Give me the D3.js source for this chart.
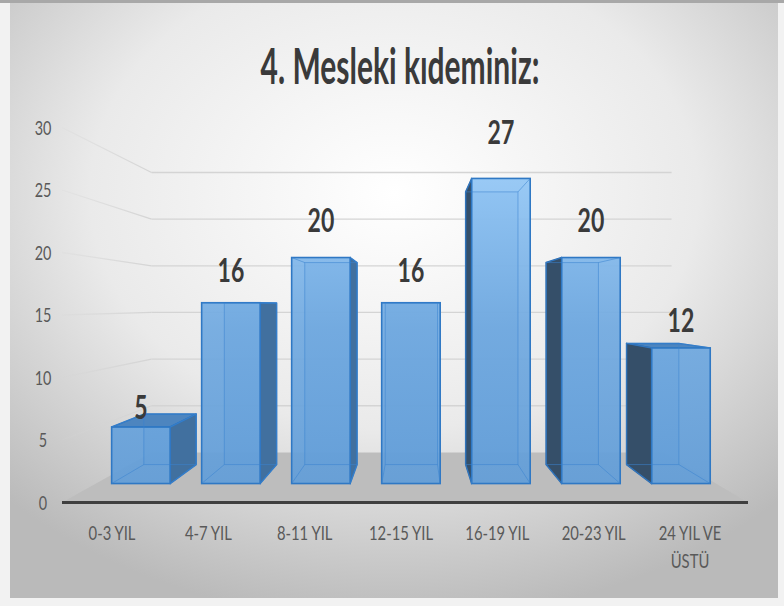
<!DOCTYPE html>
<html><head><meta charset="utf-8">
<script src="https://cdn.jsdelivr.net/npm/d3@7"></script>
<style>html,body{margin:0;padding:0;background:#f4f4f4;}svg{display:block;}</style>
</head><body>
<script>
const title = "4. Mesleki kıdeminiz:";
const categories = ["0-3 YIL","4-7 YIL","8-11 YIL","12-15 YIL","16-19 YIL","20-23 YIL","24 YIL VE ÜSTÜ"];
const categoryLines = [["0-3 YIL"],["4-7 YIL"],["8-11 YIL"],["12-15 YIL"],["16-19 YIL"],["20-23 YIL"],["24 YIL VE","ÜSTÜ"]];
const values = [5,16,20,16,27,20,12];
const yTicks = [0,5,10,15,20,25,30];

const W = 784, H = 606;
const FONT = "Lato,'Open Sans',sans-serif";
const svg = d3.select("body").append("svg").attr("width", W).attr("height", H);
const defs = svg.append("defs");

// condensed text helper (reference typography is tall and narrow)
function ctext(parent, x0, y0, sx, size, weight, fill, anchor){
  return parent.append("text").attr("transform",`translate(${x0},${y0}) scale(${sx},1)`)
    .attr("text-anchor",anchor||"middle").attr("font-family",FONT).attr("font-size",size)
    .attr("font-weight",weight||"normal").attr("fill",fill);
}

// background
const bg = defs.append("radialGradient").attr("id","bg").attr("cx","50%").attr("cy","32%").attr("r","72%");
bg.append("stop").attr("offset","0%").attr("stop-color","#ffffff");
bg.append("stop").attr("offset","55%").attr("stop-color","#eaeaea");
bg.append("stop").attr("offset","100%").attr("stop-color","#bababa");
svg.append("rect").attr("x",0).attr("y",0).attr("width",W).attr("height",H).attr("fill","#f2f2f2");
svg.append("rect").attr("x",10).attr("y",3).attr("width",768).attr("height",595).attr("fill","url(#bg)");
svg.append("rect").attr("x",0).attr("y",0).attr("width",W).attr("height",3).attr("fill","#a8a8a8");

// perspective model
const VX = 415, VY = 305, KF = 12.5;     // vanishing point, floor-front scale (px/unit)
const K_BAR_FRONT = 11.3, K_BAR_BACK = 10.1, K_WALL = 9.33;
const y = d3.scaleLinear().domain([0,30]).range([502.5,127.5]); // floor-front plane
const x = d3.scaleBand().domain(categories).range([62,759]).paddingInner(0.35).paddingOuter(0.175);
const px = (xf,k) => VX + (xf - VX) * k / KF;
const py = (v,k) => VY + (y(v) - VY) * k / KF;
const floorX = [62, 748];

// gridlines
const gg = defs.append("linearGradient").attr("id","gfade").attr("gradientUnits","userSpaceOnUse")
  .attr("x1",62).attr("x2",px(floorX[0],K_WALL)).attr("y1",0).attr("y2",0);
gg.append("stop").attr("offset","0%").attr("stop-color","#d4d4d4").attr("stop-opacity",0.2);
gg.append("stop").attr("offset","100%").attr("stop-color","#d4d4d4").attr("stop-opacity",1);
const grid = svg.append("g");
yTicks.filter(t=>t>0).forEach(t=>{
  grid.append("line").attr("x1",floorX[0]).attr("y1",py(t,KF))
    .attr("x2",px(floorX[0],K_WALL)).attr("y2",py(t,K_WALL)).attr("stroke","url(#gfade)").attr("stroke-width",1.3);
  grid.append("line").attr("x1",px(floorX[0],K_WALL)).attr("y1",py(t,K_WALL))
    .attr("x2",px(floorX[1],K_WALL)+8).attr("y2",py(t,K_WALL)).attr("stroke","#d4d4d4").attr("stroke-width",1.3);
});

// floor
svg.append("polygon").attr("points",[
  [floorX[0], py(0,KF)],[floorX[1], py(0,KF)],[px(floorX[1],K_WALL), py(0,K_WALL)],[px(floorX[0],K_WALL), py(0,K_WALL)]
].map(p=>p.join(",")).join(" ")).attr("fill","#bdbdbd");
svg.append("line").attr("x1",floorX[0]).attr("x2",floorX[1]).attr("y1",py(0,KF)).attr("y2",py(0,KF))
  .attr("stroke","#3f3f3f").attr("stroke-width",3);

// y tick labels
const yl = svg.append("g");
yTicks.forEach(t=>{
  ctext(yl, 43, y(t)+7, 0.72, 20, "normal", "#595959").text(t);
});

// bar gradient
const fg = defs.append("linearGradient").attr("id","front").attr("gradientUnits","userSpaceOnUse")
  .attr("x1",0).attr("x2",0).attr("y1",170).attr("y2",484);
fg.append("stop").attr("offset","0%").attr("stop-color","#93c7f6");
fg.append("stop").attr("offset","50%").attr("stop-color","#70a9e0");
fg.append("stop").attr("offset","100%").attr("stop-color","#619dd8");

const EDGE = "#2f78c4";
const bars = svg.append("g");
const labels = svg.append("g");
const poly = pts => pts.map(p=>p.join(",")).join(" ");
categories.forEach((c,i)=>{
  const v = values[i];
  const xf0 = x(c), xf1 = x(c) + x.bandwidth();
  const F = {x0:px(xf0,K_BAR_FRONT), x1:px(xf1,K_BAR_FRONT), yt:py(v,K_BAR_FRONT), yb:py(0,K_BAR_FRONT)};
  const B = {x0:px(xf0,K_BAR_BACK), x1:px(xf1,K_BAR_BACK), yt:py(v,K_BAR_BACK), yb:py(0,K_BAR_BACK)};
  const g = bars.append("g");
  g.append("rect").attr("x",B.x0).attr("y",B.yt).attr("width",B.x1-B.x0).attr("height",B.yb-B.yt)
    .attr("fill","#5f98d2").attr("fill-opacity",0.6);
  if (B.yt < F.yt) {
    g.append("polygon").attr("points",poly([[F.x0,F.yt],[F.x1,F.yt],[B.x1,B.yt],[B.x0,B.yt]]))
      .attr("fill","#4d85bf").attr("stroke",EDGE).attr("stroke-width",1.5).attr("stroke-linejoin","round");
  }
  if (B.x1 > F.x1 + 0.5) {
    g.append("polygon").attr("points",poly([[F.x1,F.yt],[B.x1,B.yt],[B.x1,B.yb],[F.x1,F.yb]]))
      .attr("fill","#41709f").attr("stroke",EDGE).attr("stroke-width",1.5).attr("stroke-linejoin","round");
  }
  if (B.x0 < F.x0 - 0.5) {
    g.append("polygon").attr("points",poly([[F.x0,F.yt],[B.x0,B.yt],[B.x0,B.yb],[F.x0,F.yb]]))
      .attr("fill","#354f69").attr("stroke","#2a68aa").attr("stroke-width",1.5).attr("stroke-linejoin","round");
  }
  g.append("rect").attr("x",F.x0).attr("y",F.yt).attr("width",F.x1-F.x0).attr("height",F.yb-F.yt)
    .attr("fill","url(#front)").attr("fill-opacity",0.92).attr("stroke",EDGE).attr("stroke-width",1.6);
  const hid = g.append("g").attr("stroke","#3b84cf").attr("stroke-opacity",0.55).attr("stroke-width",1).attr("fill","none");
  hid.append("rect").attr("x",B.x0).attr("y",B.yt).attr("width",B.x1-B.x0).attr("height",B.yb-B.yt);
  [[F.x0,F.yt,B.x0,B.yt],[F.x1,F.yt,B.x1,B.yt],[F.x0,F.yb,B.x0,B.yb],[F.x1,F.yb,B.x1,B.yb]].forEach(l=>{
    hid.append("line").attr("x1",l[0]).attr("y1",l[1]).attr("x2",l[2]).attr("y2",l[3]);
  });
  ctext(labels, (F.x0+F.x1)/2, y(v)-32+11, 0.72, 32, "bold", "#3a3a3a").text(v);
});

// category labels
const xl = d3.scalePoint().domain(categories).range([112,690]);
const cl = svg.append("g");
categories.forEach((c,i)=>{
  categoryLines[i].forEach((ln,j)=>{
    ctext(cl, xl(c), 540 + j*28, 0.78, 19, "normal", "#595959").text(ln);
  });
});

// title
ctext(svg, 400, 84, 0.6, 50, "bold", "#3a3a3a").text(title);
</script>
</body></html>
